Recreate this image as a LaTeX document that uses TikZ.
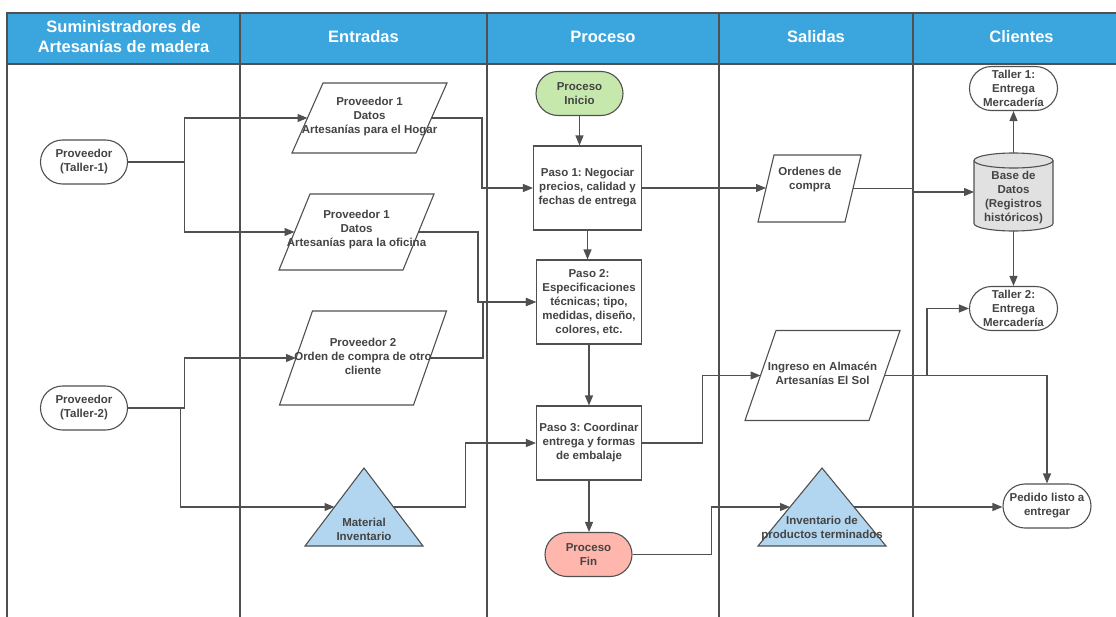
\documentclass[tikz,border=0pt]{standalone}
\usepackage{fontspec}
\setmainfont{Liberation Sans}
\usetikzlibrary{arrows.meta,calc}
\frenchspacing

\definecolor{hdr}{RGB}{59,165,222}
\definecolor{linec}{RGB}{80,80,80}
\definecolor{txtc}{RGB}{68,68,68}
\definecolor{startg}{RGB}{199,232,172}
\definecolor{endr}{RGB}{255,182,172}
\definecolor{triblue}{RGB}{178,214,240}
\definecolor{dbgray}{RGB}{225,225,225}

\tikzset{
  lane/.style={draw=linec, line width=1.1pt},
  hdrtext/.style={text=white, font=\fontsize{16.5}{20}\selectfont\bfseries, align=center, inner sep=0pt},
  txt/.style={text=txtc, font=\fontsize{11.5}{14}\selectfont\bfseries, align=center, inner sep=0pt},
  shp/.style={draw=linec, line width=1.1pt, fill=white},
  pill/.style={shp, txt, rounded corners=22pt, minimum width=87pt, minimum height=44pt},
  stepbox/.style={shp, txt, rectangle},
  frame/.style={rectangle, inner sep=0pt, outer sep=0pt},
  arr/.style={draw=linec, line width=1.1pt, -{Triangle[length=10pt,width=8pt]}},
}

% parallelogram outline on a frame node: #1 node, #2 half of the slant
\newcommand{\drawpgram}[2]{%
  \draw[shp] ([xshift=#2]#1.north west) -- ([xshift=#2]#1.north east)
    -- ([xshift=-#2]#1.south east) -- ([xshift=-#2]#1.south west) -- cycle;}
% triangle outline on a frame node
\newcommand{\drawtri}[1]{%
  \draw[shp, fill=triblue] (#1.south west) -- (#1.north) -- (#1.south east) -- cycle;}

\begin{document}
\begin{tikzpicture}[x=1pt,y=-1pt]
\useasboundingbox (0,0) rectangle (1116,616);

% swimlane header and lane borders
\fill[hdr] (7,13) rectangle (1116,64);
\draw[lane] (1117,13) -- (7,13) -- (7,617);
\draw[lane] (7,64) -- (1117,64);
\foreach \x in {240,487,719,913} \draw[lane] (\x,13) -- (\x,617);

\node[hdrtext] (h1) at (123.5,37) {Suministradores de\\Artesanías de madera};
\node[hdrtext] (h2) at (363.5,37) {Entradas};
\node[hdrtext] (h3) at (603,37) {Proceso};
\node[hdrtext] (h4) at (816,37) {Salidas};
\node[hdrtext] (h5) at (1021.5,37) {Clientes};

% suppliers
\node[pill] (tall1) at (84,162) {Proveedor\\(Taller-1)};
\node[pill] (tall2) at (84,408) {Proveedor\\(Taller-2)};

% inputs
\node[frame, minimum width=124pt, minimum height=70pt] (hogar) at (369.5,118) {};
\node[frame, minimum width=124pt, minimum height=76pt] (ofi) at (356.5,232) {};
\node[frame, minimum width=134pt, minimum height=94pt] (prv2) at (363,358) {};
\node[frame, minimum width=118pt, minimum height=78pt] (mat) at (364,507) {};

% process
\node[pill, fill=startg] (ini) at (579.5,93.5) {Proceso\\Inicio};
\node[stepbox, minimum width=108pt, minimum height=84pt] (s1) at (587.5,188)
  {Paso 1: Negociar\\precios, calidad y\\fechas de entrega};
\node[stepbox, minimum width=105pt, minimum height=84pt] (s2) at (589,302)
  {Paso 2:\\Especificaciones\\técnicas; tipo,\\medidas, diseño,\\colores, etc.};
\node[stepbox, minimum width=105pt, minimum height=74pt] (s3) at (589,443)
  {Paso 3: Coordinar\\entrega y formas\\de embalaje};
\node[pill, fill=endr] (fin) at (588.5,554.5) {Proceso\\Fin};

% outputs
\node[frame, minimum width=87pt, minimum height=67pt] (ord) at (809.5,188.5) {};
\node[frame, minimum width=124pt, minimum height=90pt] (ing) at (822.5,375.5) {};
\node[frame, minimum width=128pt, minimum height=78pt] (inv) at (822,507) {};

% clients
\node[pill, minimum width=88pt] (cl1) at (1013.5,88.5) {Taller 1:\\Entrega\\Mercadería};
\node[frame, minimum width=79pt, minimum height=78pt] (db) at (1013.5,192) {};
\node[pill, minimum width=88pt] (cl2) at (1013.5,308.5) {Taller 2:\\Entrega\\Mercadería};
\node[pill, minimum width=88pt] (ped) at (1047,506) {Pedido listo a\\entregar};

% shape outlines
\drawpgram{hogar}{15.5pt}
\drawpgram{ofi}{15.5pt}
\drawpgram{prv2}{16.5pt}
\drawpgram{ord}{8pt}
\drawpgram{ing}{15.5pt}
\drawtri{mat}
\drawtri{inv}
\draw[shp, fill=dbgray] ([yshift=-7.5pt]db.north west) -- ([yshift=7.5pt]db.south west)
  arc[start angle=180, end angle=360, x radius=39.5pt, y radius=7.5pt]
  -- ([yshift=-7.5pt]db.north east)
  arc[start angle=0, end angle=180, x radius=39.5pt, y radius=7.5pt] -- cycle;
\draw[shp, fill=none] ([yshift=-7.5pt]db.north west)
  arc[start angle=180, end angle=360, x radius=39.5pt, y radius=7.5pt];

% side points of the triangles
\coordinate (matL) at ($(mat.north)!0.5!(mat.south west)$);
\coordinate (matR) at ($(mat.north)!0.5!(mat.south east)$);
\coordinate (invL) at ($(inv.north)!0.5!(inv.south west)$);
\coordinate (invR) at ($(inv.north)!0.5!(inv.south east)$);

% connectors
\draw[arr] (tall1.east) -- ++(56,0) |- (hogar.west);
\draw[arr] (tall1.east) -- ++(56,0) |- (ofi.west);
\draw[arr] (tall2.east) -- ++(56,0) |- (prv2.west);
\draw[arr] (tall2.east) -- ++(52,0) |- (matL);
\draw[arr] (hogar.east) -- ++(50.5,0) |- (s1.west);
\draw[arr] (ofi.east) -- ++(59.5,0) |- (s2.west);
\draw[arr] (prv2.east) -- ++(53,0) |- (s2.west);
\draw[arr] (matR) -- ++(72,0) |- (s3.west);
\draw[arr] (ini.south) -- (ini.south |- s1.north);
\draw[arr] (s1.south) -- (s1.south |- s2.north);
\draw[arr] (s2.south) -- (s3.north);
\draw[arr] (s3.south) -- (s3.south |- fin.north);
\draw[arr] (s1.east) -- (s1.east -| ord.west);
\draw[arr] (ord.east) -- ++(60,0) |- (db.west);
\draw[arr] (db.north) -- (cl1.south);
\draw[arr] (db.south) -- (cl2.north);
\draw[arr] (s3.east) -- ++(60,0) |- (ing.west);
\draw[arr] (ing.east) -- ++(42.5,0) |- (cl2.west);
\draw[arr] (ing.east) -| (ped.north);
\draw[arr] (fin.east) -- ++(79,0) |- (invL);
\draw[arr] (invR) -- (invR -| ped.west);

% texts of the drawn shapes
\node[txt] (hogart) at (369.5,117) {Proveedor 1\\Datos\\Artesanías para el Hogar};
\node[txt] (ofit) at (356.5,230) {Proveedor 1\\Datos\\Artesanías para la oficina};
\node[txt] (prv2t) at (363,356) {Proveedor 2\\Orden de compra de otro\\cliente};
\node[txt] (matt) at (364,529) {Material\\Inventario};
\node[txt] (ordt) at (810,180) {Ordenes de\\compra};
\node[txt] (ingt) at (822.5,373.5) {Ingreso en Almacén\\Artesanías El Sol};
\node[txt] (invt) at (822,529) {Inventario de\\productos terminados};
\node[txt] (dbt) at (1013.5,198) {Base de\\Datos\\(Registros\\históricos)};
\end{tikzpicture}
\end{document}
